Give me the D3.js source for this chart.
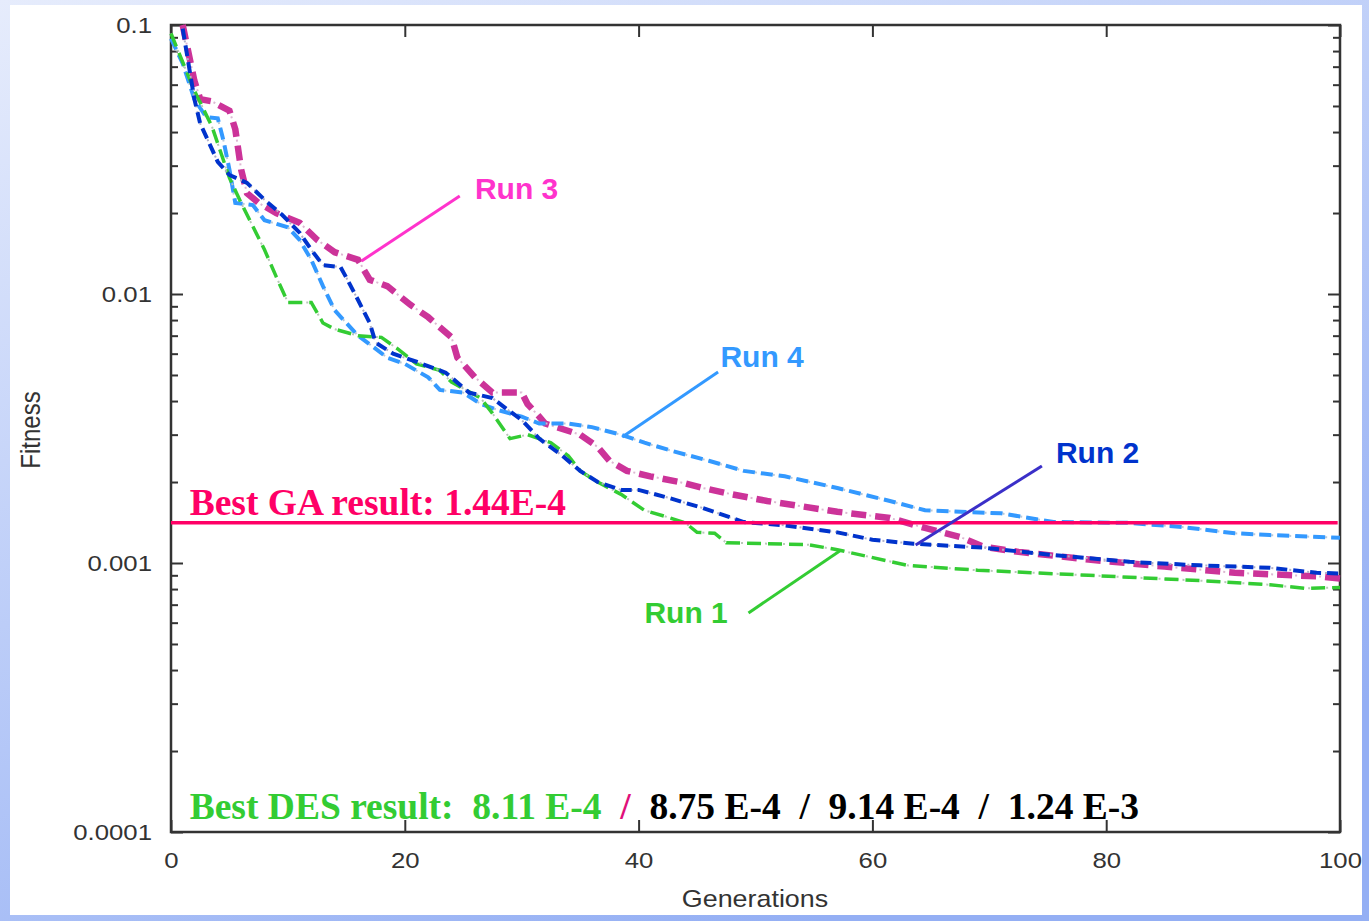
<!DOCTYPE html>
<html lang="en">
<head>
<meta charset="UTF-8">
<title>DES fitness runs</title>
<style>
  body { margin: 0; }
  svg { display: block; }
</style>
<script src="https://cdn.jsdelivr.net/npm/d3@7"></script>
</head>
<body>
<script>
// ---- data ----
const genTicks = [0, 20, 40, 60, 80, 100];
const fitTicks = [0.0001, 0.001, 0.01, 0.1];
const fitLabels = ["0.0001", "0.001", "0.01", "0.1"];

const run1Gen = [0, 2, 3.5, 5, 6, 8, 9, 10, 12, 13, 14, 16, 18, 19.5, 21, 23, 24, 26.5, 27.5, 29, 30.5, 32.5, 34, 35, 36.5, 38.5, 40.5, 42.5, 44, 45, 46.5, 47.5, 54.5, 57, 63, 69, 78.5, 88, 94, 97, 100];
const run1Fit = [0.093, 0.057, 0.042, 0.027, 0.0218, 0.0146, 0.0116, 0.0093, 0.0093, 0.0078, 0.0074, 0.0070, 0.0069, 0.0062, 0.0055, 0.0052, 0.0047, 0.0041, 0.0036, 0.0029, 0.0030, 0.0028, 0.0025, 0.0022, 0.0020, 0.0018, 0.00157, 0.00148, 0.00141, 0.00130, 0.00129, 0.00119, 0.00117, 0.00112, 0.00098, 0.00094, 0.00090, 0.00086, 0.00083, 0.000805, 0.000811];

const run2Gen = [1, 2, 2.5, 4, 5, 6.5, 8, 9.5, 11, 12, 13, 14.5, 15, 16, 17, 17.5, 19, 21, 23.5, 25.5, 27.5, 28.5, 30, 31.5, 33.5, 35, 36.5, 38.5, 40, 42.5, 45.5, 49, 52.5, 57, 60, 63.5, 69.5, 75.5, 82, 88, 94, 98, 100];
const run2Fit = [0.097, 0.053, 0.043, 0.031, 0.0277, 0.0259, 0.0224, 0.0197, 0.0169, 0.0146, 0.0128, 0.0126, 0.0115, 0.0095, 0.0078, 0.0066, 0.0060, 0.0056, 0.0051, 0.0043, 0.0041, 0.0038, 0.0034, 0.0029, 0.0025, 0.0022, 0.0020, 0.00187, 0.00187, 0.00175, 0.0016, 0.00142, 0.00138, 0.00130, 0.00122, 0.00118, 0.00114, 0.00107, 0.00101, 0.00098, 0.00096, 0.00092, 0.000914];

const run3Gen = [1, 2, 2.5, 3.5, 5, 5.5, 6, 6.5, 7.5, 9, 11, 12.5, 14, 16, 17, 18.5, 20.5, 22, 24, 24.5, 26, 27.5, 30, 30.5, 31.5, 32, 35, 36.5, 37.5, 39, 41, 43.5, 45.5, 48, 51, 57, 61.5, 64.5, 67.5, 69.5, 72.5, 78.5, 85, 91, 98.5, 100];
const run3Fit = [0.1, 0.062, 0.053, 0.052, 0.048, 0.041, 0.029, 0.0237, 0.0218, 0.0200, 0.0184, 0.0159, 0.0143, 0.0134, 0.0113, 0.0107, 0.0091, 0.0082, 0.0069, 0.0058, 0.0049, 0.0043, 0.0043, 0.0039, 0.0035, 0.0033, 0.0030, 0.0027, 0.0024, 0.0022, 0.0021, 0.0020, 0.0019, 0.0018, 0.0017, 0.00155, 0.00147, 0.00135, 0.00125, 0.00115, 0.00110, 0.00103, 0.00097, 0.00092, 0.00089, 0.000875];

const run4Gen = [0, 1, 2, 3, 4, 4.5, 5, 5.5, 7, 8, 10, 11, 12, 13, 14, 15, 16, 17, 18.5, 20, 22, 23, 25, 26.5, 28, 30, 31.5, 34, 36, 38.5, 40.5, 43, 46, 49, 52.5, 57, 61.5, 64.5, 71, 75.5, 82, 86.5, 91, 94, 100];
const run4Fit = [0.089, 0.072, 0.053, 0.0455, 0.045, 0.037, 0.029, 0.0218, 0.0214, 0.0188, 0.0177, 0.0159, 0.0134, 0.0107, 0.0087, 0.0078, 0.0070, 0.0065, 0.0058, 0.0055, 0.0049, 0.0044, 0.0043, 0.0039, 0.0037, 0.0035, 0.0033, 0.0033, 0.0032, 0.0030, 0.0028, 0.0026, 0.0024, 0.0022, 0.0021, 0.0019, 0.0017, 0.00157, 0.00153, 0.00142, 0.00141, 0.00136, 0.00129, 0.00127, 0.00124];

const gaBest = 0.00141;
const desParts = ["Best DES result:  8.11 E-4  ", "/", "  8.75 E-4  /  9.14 E-4  /  1.24 E-3"];

// ---- canvas ----
const width = 1369;
const height = 921;
const plot = { left: 171, right: 1340, top: 25, bottom: 832 };
const stretch = 1.12; // the chart image in the slide is stretched sideways

const svg = d3.select("body").append("svg").attr("width", width).attr("height", height);

const defs = svg.append("defs");
const grad = defs.append("linearGradient").attr("id", "bg")
  .attr("x1", 0).attr("y1", 0).attr("x2", 0.6).attr("y2", 1);
grad.append("stop").attr("offset", 0).attr("stop-color", "#e6ecfc");
grad.append("stop").attr("offset", 0.5).attr("stop-color", "#bccdf8");
grad.append("stop").attr("offset", 1).attr("stop-color", "#94aff4");

svg.append("rect").attr("width", width).attr("height", height).attr("fill", "url(#bg)");
svg.append("rect").attr("x", 10).attr("y", 5).attr("width", 1352).attr("height", 910).attr("fill", "#fff");

// ---- scales ----
const x = d3.scaleLinear().domain([0, 100]).range([plot.left, plot.right]);
const y = d3.scaleLog().domain([0.0001, 0.1]).range([plot.bottom, plot.top]);

const minorTicks = [];
[0.0001, 0.001, 0.01].forEach(base => {
  for (let k = 2; k <= 9; k++) minorTicks.push(base * k);
});

const styleAxis = (g) => {
  g.select(".domain").remove();
  g.selectAll(".tick line").attr("stroke", "#333").attr("stroke-width", 2);
  g.selectAll(".tick text")
    .attr("fill", "#333")
    .attr("font-family", "'Liberation Sans', Arial, sans-serif")
    .attr("font-size", 23)
    .attr("transform", `scale(${stretch},1)`);
};

// bottom / top
svg.append("g").attr("transform", `translate(0,${plot.bottom})`)
  .call(d3.axisBottom(x).tickValues(genTicks).tickSize(-12).tickSizeOuter(0).tickPadding(20))
  .call(styleAxis);
svg.append("g").attr("transform", `translate(0,${plot.top})`)
  .call(d3.axisTop(x).tickValues(genTicks).tickSize(-12).tickSizeOuter(0).tickFormat(""))
  .call(styleAxis);

// left / right
svg.append("g").attr("transform", `translate(${plot.left},0)`)
  .call(d3.axisLeft(y).tickValues(fitTicks).tickFormat((d, i) => fitLabels[i]).tickSize(-12).tickSizeOuter(0).tickPadding(17))
  .call(styleAxis);
svg.append("g").attr("transform", `translate(${plot.left},0)`)
  .call(d3.axisLeft(y).tickValues(minorTicks).tickFormat("").tickSize(-7).tickSizeOuter(0))
  .call(styleAxis);
svg.append("g").attr("transform", `translate(${plot.right},0)`)
  .call(d3.axisRight(y).tickValues(fitTicks).tickFormat("").tickSize(-12).tickSizeOuter(0))
  .call(styleAxis);
svg.append("g").attr("transform", `translate(${plot.right},0)`)
  .call(d3.axisRight(y).tickValues(minorTicks).tickFormat("").tickSize(-7).tickSizeOuter(0))
  .call(styleAxis);

svg.append("rect")
  .attr("x", plot.left).attr("y", plot.top)
  .attr("width", plot.right - plot.left).attr("height", plot.bottom - plot.top)
  .attr("fill", "none").attr("stroke", "#333").attr("stroke-width", 2.5);

// axis titles
svg.append("text")
  .attr("transform", `translate(755,907) scale(${stretch},1)`)
  .attr("text-anchor", "middle")
  .attr("font-family", "'Liberation Sans', Arial, sans-serif")
  .attr("font-size", 24).attr("fill", "#333")
  .text("Generations");
svg.append("text")
  .attr("transform", `translate(40,430) scale(${stretch},1) rotate(-90)`)
  .attr("text-anchor", "middle")
  .attr("font-family", "'Liberation Sans', Arial, sans-serif")
  .attr("font-size", 24).attr("fill", "#333")
  .text("Fitness");

// ---- runs ----
const runs = [
  { gen: run3Gen, fit: run3Fit, color: "#cc3399", width: 6.5, dash: "15,9", under: "#dcb8d2" },
  { gen: run4Gen, fit: run4Fit, color: "#3399ff", width: 4, dash: "12,6", under: "#b8c8d8" },
  { gen: run1Gen, fit: run1Fit, color: "#33cc33", width: 3.5, dash: "14,7", under: "#b8c8b8" },
  { gen: run2Gen, fit: run2Fit, color: "#0033cc", width: 4, dash: "11,6", under: "#b0b0c8" }
];

const line = d3.line().x(d => x(d[0])).y(d => y(d[1]));

runs.forEach(r => {
  const pts = d3.zip(r.gen, r.fit);
  svg.append("path").datum(pts)
    .attr("d", line).attr("fill", "none")
    .attr("stroke", r.under).attr("stroke-width", 2)
    .attr("stroke-dasharray", "2,4");
  svg.append("path").datum(pts)
    .attr("d", line).attr("fill", "none")
    .attr("stroke", r.color).attr("stroke-width", r.width)
    .attr("stroke-dasharray", r.dash);
});

// ---- overlays ----
svg.append("line")
  .attr("x1", x(0)).attr("x2", x(99.8))
  .attr("y1", y(gaBest)).attr("y2", y(gaBest))
  .attr("stroke", "#ff0066").attr("stroke-width", 3.5);

svg.append("text")
  .attr("x", x(1.6)).attr("y", y(0.001508))
  .attr("font-family", "'Liberation Serif', 'Times New Roman', serif")
  .attr("font-weight", "bold").attr("font-size", 37.5).attr("fill", "#ff0066")
  .text("Best GA result: 1.44E-4");

const des = svg.append("text")
  .attr("x", x(1.6)).attr("y", y(0.0001117))
  .attr("font-family", "'Liberation Serif', 'Times New Roman', serif")
  .attr("font-weight", "bold").attr("font-size", 37.5)
  .style("white-space", "pre");
des.append("tspan").attr("fill", "#33cc33").text(desParts[0]);
des.append("tspan").attr("fill", "#e0107a").text(desParts[1]);
des.append("tspan").attr("fill", "#000").text(desParts[2]);

// run labels with leader lines (positions in data units)
const labels = [
  { text: "Run 3", color: "#ff33cc", tg: 26.0, tv: 0.02255, g1: 24.7, v1: 0.02314, g2: 16.3, v2: 0.01327 },
  { text: "Run 4", color: "#3399ff", tg: 47.0, tv: 0.005354, g1: 46.8, v1: 0.00513, g2: 38.6, v2: 0.00294 },
  { text: "Run 2", color: "#0033cc", tg: 75.7, tv: 0.002353, g1: 74.5, v1: 0.002294, g2: 63.7, v2: 0.001166, lineColor: "#3a2fc8" },
  { text: "Run 1", color: "#33cc33", tg: 40.5, tv: 0.000598, g1: 49.4, v1: 0.000652, g2: 57.2, v2: 0.001108 }
];

labels.forEach(l => {
  svg.append("line")
    .attr("x1", x(l.g1)).attr("y1", y(l.v1))
    .attr("x2", x(l.g2)).attr("y2", y(l.v2))
    .attr("stroke", l.lineColor || l.color).attr("stroke-width", 3);
  svg.append("text")
    .attr("x", x(l.tg)).attr("y", y(l.tv))
    .attr("font-family", "'Liberation Sans', Arial, sans-serif")
    .attr("font-weight", "bold").attr("font-size", 30)
    .attr("fill", l.color)
    .text(l.text);
});
</script>
</body>
</html>
